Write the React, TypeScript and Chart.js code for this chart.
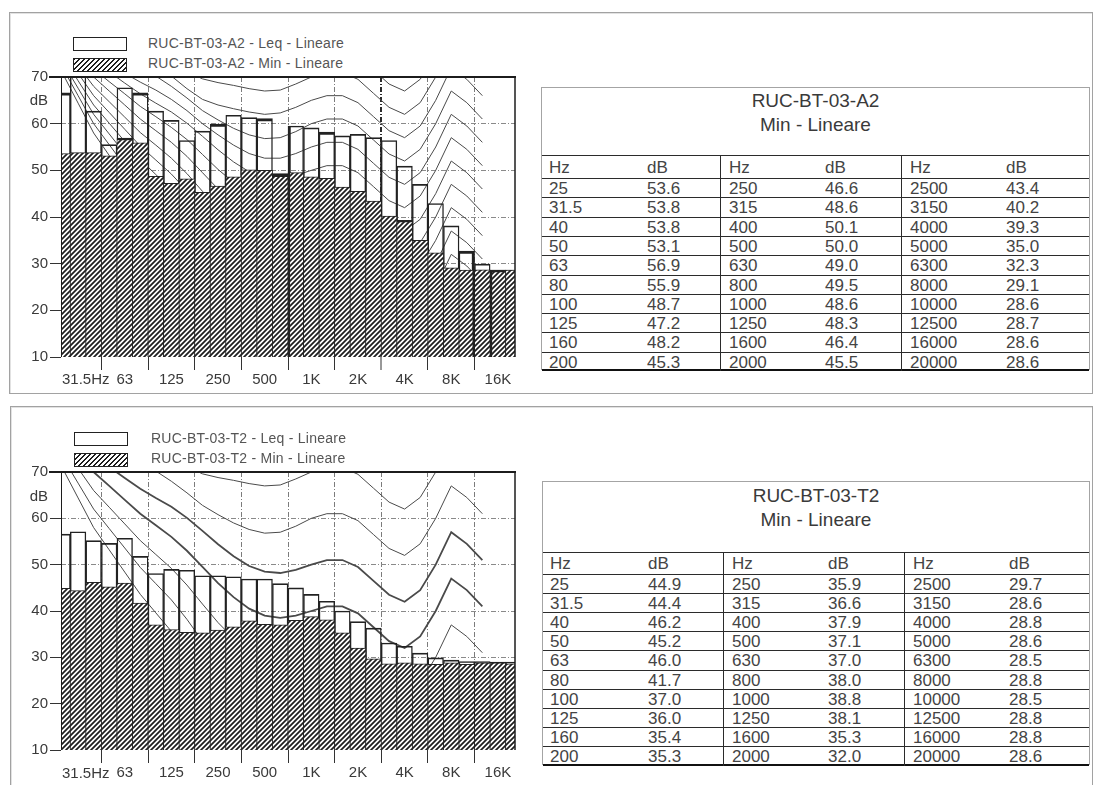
import React, { useEffect, useRef } from 'react';
import { Chart, registerables } from 'chart.js';

Chart.register(...registerables);

const FONT = '"Liberation Sans", Arial, Helvetica, sans-serif';

// Third-octave band centre frequencies (25 Hz .. 20 kHz)
const bandHz = [
  '25', '31.5', '40', '50', '63', '80', '100', '125', '160', '200',
  '250', '315', '400', '500', '630', '800', '1000', '1250', '1600', '2000',
  '2500', '3150', '4000', '5000', '6300', '8000', '10000', '12500', '16000', '20000',
];

// Octave ticks on the frequency axis (band index -> label); the 31.5 Hz label
// is written together with its unit as a separate text
const octaveBandIdx = [1, 4, 7, 10, 13, 16, 19, 22, 25, 28];
const octaveLabels = ['', '63', '125', '250', '500', '1K', '2K', '4K', '8K', '16K'];

// RUC-BT-03-A2, dB per band
const a2Leq = [
  66.6, 72.0, 62.7, 55.5, 67.7, 66.6, 62.7, 60.7, 56.4, 58.4,
  59.9, 61.8, 61.3, 61.1, 49.3, 59.5, 59.1, 58.2, 57.4, 57.7,
  57.0, 56.4, 50.9, 47.0, 42.9, 38.1, 32.7, 29.9, 28.6, 28.6,
];
const a2Min = [
  53.6, 53.8, 53.8, 53.1, 56.9, 55.9, 48.7, 47.2, 48.2, 45.3,
  46.6, 48.6, 50.1, 50.0, 49.0, 49.5, 48.6, 48.3, 46.4, 45.5,
  43.4, 40.2, 39.3, 35.0, 32.3, 29.1, 28.6, 28.7, 28.6, 28.6,
];

// RUC-BT-03-T2, dB per band
const t2Leq = [
  56.6, 57.1, 55.2, 54.6, 55.7, 51.8, 48.1, 49.0, 48.8, 47.6,
  47.6, 47.4, 46.9, 46.9, 45.9, 45.0, 43.6, 42.1, 40.0, 37.7,
  36.3, 33.1, 32.4, 30.9, 29.9, 29.4, 29.1, 29.1, 29.0, 29.0,
];
const t2Min = [
  44.9, 44.4, 46.2, 45.2, 46.0, 41.7, 37.0, 36.0, 35.4, 35.3,
  35.9, 36.6, 37.9, 37.1, 37.0, 38.0, 38.8, 38.1, 35.3, 32.0,
  29.7, 28.6, 28.8, 28.6, 28.5, 28.8, 28.5, 28.8, 28.8, 28.6,
];

// Equal-loudness contours: phon level and dB at the bands 25 Hz .. 12.5 kHz
const contourPhon = [10, 15, 20, 25, 30, 35, 40, 45, 50, 55, 60, 65, 70, 75];
const contourDb = [
  [70.8, 64.4, 58, 53.2, 48.4, 43.6, 39.6, 35.6, 30.8, 25.5, 20.5, 16.3, 12.6, 10.5, 9.4, 9.3, 10, 11, 11, 9.5, 6.5, 3.5, 2, 4.5, 10, 17, 14.5, 11],
  [72, 66, 60, 55.5, 51, 46.5, 42.8, 39, 34.5, 29.5, 24.8, 20.8, 17.3, 15.3, 14.3, 14.3, 15, 16, 16, 14.5, 11.5, 8.5, 7, 9.5, 15, 22, 19.5, 16],
  [73.2, 67.6, 62, 57.8, 53.6, 49.4, 45.9, 42.4, 38.2, 33.5, 29, 25.2, 21.9, 20, 19.1, 19.2, 20, 21, 21, 19.5, 16.5, 13.5, 12, 14.5, 20, 27, 24.5, 21],
  [74.4, 69.2, 64, 60.1, 56.2, 52.3, 49.1, 45.8, 41.9, 37.5, 33.3, 29.7, 26.6, 24.8, 23.9, 24.2, 25, 26, 26, 24.5, 21.5, 18.5, 17, 19.5, 25, 32, 29.5, 26],
  [75.6, 70.8, 66, 62.4, 58.8, 55.2, 52.2, 49.2, 45.6, 41.5, 37.5, 34.1, 31.2, 29.5, 28.8, 29.1, 30, 31, 31, 29.5, 26.5, 23.5, 22, 24.5, 30, 37, 34.5, 31],
  [76.8, 72.4, 68, 64.7, 61.4, 58.1, 55.4, 52.6, 49.3, 45.5, 41.8, 38.6, 35.9, 34.3, 33.7, 34.1, 35, 36, 36, 34.5, 31.5, 28.5, 27, 29.5, 35, 42, 39.5, 36],
  [78, 74, 70, 67, 64, 61, 58.5, 56, 53, 49.5, 46, 43, 40.5, 39, 38.5, 39, 40, 41, 41, 39.5, 36.5, 33.5, 32, 34.5, 40, 47, 44.5, 41],
  [78.8, 75.3, 71.7, 69, 66.4, 63.7, 61.5, 59.2, 56.6, 53.4, 50.2, 47.4, 45.1, 43.7, 43.3, 43.9, 45, 46, 46, 44.5, 41.5, 38.5, 37, 39.5, 45, 52, 49.5, 46],
  [79.6, 76.5, 73.4, 71.1, 68.7, 66.4, 64.4, 62.5, 60.1, 57.3, 54.4, 51.8, 49.7, 48.5, 48.2, 48.9, 50, 51, 51, 49.5, 46.5, 43.5, 42, 44.5, 50, 57, 54.5, 51],
  [80.1, 77.4, 74.8, 72.8, 70.8, 68.9, 67.2, 65.2, 62.8, 60, 57.6, 55.4, 53.6, 52.6, 52.6, 53.6, 55, 56, 56, 54.5, 51.5, 48.5, 47, 49.5, 55, 62, 59.5, 56],
  [80.9, 78.7, 76.5, 74.9, 73.2, 71.6, 70.2, 68, 65.5, 62.8, 60.8, 59, 57.6, 56.8, 57, 58.3, 60, 61, 61, 59.5, 56.5, 53.5, 52, 54.5, 60, 67, 64.5, 61],
  [82.1, 80.3, 78.5, 77.2, 75.8, 74.5, 72.5, 70.2, 67.5, 65.2, 64, 63.2, 62.5, 62, 62.3, 63.5, 65, 66, 66, 64.5, 61.5, 58.5, 57, 59.5, 65, 72, 69.5, 66],
  [83.3, 81.9, 80.5, 79.5, 78.4, 77.4, 75.5, 73.5, 71.2, 69.6, 68.8, 68.2, 67.5, 67, 67.2, 68.5, 70, 71, 71, 69.5, 66.5, 63.5, 62, 64.5, 70, 77, 74.5, 71],
  [85.6, 84.5, 83.4, 82.6, 81.7, 80.9, 79.5, 78, 76.2, 74.5, 73.5, 73, 72.4, 72, 72.2, 73.4, 75, 76, 76, 74.5, 71.5, 68.5, 67, 69.5, 75, 82, 79.5, 76],
];

type Edge = { top?: number; left?: number; right?: number };

function makeHatch(): CanvasPattern | string {
  const c = document.createElement('canvas');
  c.width = 5;
  c.height = 5;
  const g = c.getContext('2d');
  if (!g) return '#999';
  g.fillStyle = '#ffffff';
  g.fillRect(0, 0, 5, 5);
  g.strokeStyle = '#1e1e1e';
  g.lineWidth = 1.75;
  g.beginPath();
  g.moveTo(-1, 6);
  g.lineTo(6, -1);
  g.moveTo(-1, 1);
  g.lineTo(1, -1);
  g.moveTo(4, 6);
  g.lineTo(6, 4);
  g.stroke();
  return g.createPattern(c, 'repeat') || '#999';
}

// Solid frame: thick top edge at 70 dB, right edge, thin left edge
const framePlugin = {
  id: 'plotFrame',
  afterDatasetsDraw(chart: any) {
    const { ctx, chartArea: a } = chart;
    ctx.save();
    ctx.strokeStyle = '#1c1c1c';
    ctx.lineWidth = 1;
    ctx.beginPath();
    ctx.moveTo(a.left + 0.5, a.top);
    ctx.lineTo(a.left + 0.5, a.bottom);
    ctx.stroke();
    ctx.lineWidth = 1.5;
    ctx.beginPath();
    ctx.moveTo(a.right, a.top);
    ctx.lineTo(a.right, a.bottom);
    ctx.stroke();
    ctx.lineWidth = 2;
    ctx.beginPath();
    ctx.moveTo(a.left - 12, a.top);
    ctx.lineTo(a.right + 1, a.top);
    ctx.stroke();
    ctx.restore();
  },
};

interface ChartProps {
  top: number;
  height: number;
  leq: number[];
  min: number[];
  phon: number[];
  boldPhon: number[];
  leqEdges: Record<number, Edge>;
  minEdges: Record<number, Edge>;
  boldGridIdx: number[];
}

function SpectrumChart(p: ChartProps) {
  const ref = useRef<HTMLCanvasElement>(null);

  useEffect(() => {
    const canvas = ref.current;
    if (!canvas) return;
    const hatch = makeHatch();
    const edgeWidth = (edges: Record<number, Edge>) => (ctx: any) => {
      const e = edges[ctx.dataIndex] || {};
      return { top: e.top ?? 1, left: e.left ?? 0.75, right: e.right ?? 0.75, bottom: 0 };
    };
    const curves = p.phon.map((ph) => {
      const row = contourDb[contourPhon.indexOf(ph)];
      return {
        type: 'line' as const,
        label: `${ph} phon`,
        data: row.map((y, i) => ({ x: i, y })),
        borderColor: '#4a4a4a',
        borderWidth: p.boldPhon.includes(ph) ? 1.8 : 1,
        pointRadius: 0,
        tension: 0,
        fill: false,
        order: 3,
      };
    });
    const tickFont = { family: FONT, size: 15 };
    const chart = new Chart(canvas, {
      type: 'bar',
      data: {
        datasets: [
          {
            type: 'bar',
            label: 'Min',
            data: p.min.map((y, i) => ({ x: i, y })),
            backgroundColor: hatch as any,
            borderColor: '#222222',
            borderWidth: edgeWidth(p.minEdges) as any,
            borderSkipped: 'start',
            grouped: false,
            barPercentage: 1,
            categoryPercentage: 1,
            order: 0,
          } as any,
          {
            type: 'bar',
            label: 'Leq',
            data: p.leq.map((y, i) => ({ x: i, y })),
            backgroundColor: 'rgba(255,255,255,0)',
            borderColor: '#222222',
            borderWidth: edgeWidth(p.leqEdges) as any,
            borderSkipped: 'start',
            grouped: false,
            barPercentage: 1,
            categoryPercentage: 1,
            order: 1,
          } as any,
          ...(curves as any[]),
        ],
      },
      options: {
        responsive: false,
        animation: false,
        events: [],
        layout: { padding: { top: 10, right: 10, left: 0, bottom: 0 } },
        plugins: { legend: { display: false }, tooltip: { enabled: false } },
        scales: {
          x: {
            type: 'linear',
            min: -0.1,
            max: 29.1,
            offset: false,
            afterBuildTicks: (axis: any) => {
              axis.ticks = octaveBandIdx.map((v) => ({ value: v }));
            },
            afterFit: (axis: any) => {
              axis.height = 35;
            },
            ticks: {
              autoSkip: false,
              maxRotation: 0,
              padding: 1,
              color: '#3a3a3a',
              font: tickFont,
              callback: (v: any) => {
                const k = octaveBandIdx.indexOf(Number(v));
                return k >= 0 ? octaveLabels[k] : '';
              },
            },
            grid: {
              color: (ctx: any) => (p.boldGridIdx.includes(ctx.tick?.value) ? '#2a2a2a' : '#7c7c7c'),
              lineWidth: (ctx: any) => (p.boldGridIdx.includes(ctx.tick?.value) ? 2 : 1),
              tickLength: 13,
              tickColor: '#333333',
              tickWidth: 1,
            },
            border: { display: false, dash: [5, 2, 1, 2] },
          },
          y: {
            type: 'linear',
            min: 10,
            max: 70,
            afterFit: (axis: any) => {
              axis.width = 61;
            },
            ticks: { stepSize: 10, padding: 2, color: '#3a3a3a', font: tickFont },
            grid: {
              color: (ctx: any) =>
                ctx.tick?.value === 10 || ctx.tick?.value === 70 ? 'rgba(0,0,0,0)' : '#8a8a8a',
              tickLength: 11,
              tickColor: '#333333',
              tickWidth: 1,
            },
            border: { display: false, dash: [5, 2, 1, 2] },
          },
        },
      } as any,
      plugins: [framePlugin],
    });
    return () => chart.destroy();
  }, []);

  return (
    <canvas
      ref={ref}
      width={525}
      height={p.height}
      style={{ position: 'absolute', left: 0, top: p.top, width: 525, height: p.height }}
    />
  );
}

const hatchCss = 'repeating-linear-gradient(135deg, #1e1e1e 0px, #1e1e1e 1.3px, #ffffff 1.3px, #ffffff 3.5px)';

function Legend({ boxLeft, boxTop, textLeft, name }: { boxLeft: number; boxTop: number; textLeft: number; name: string }) {
  const box = (top: number, bg: string) => (
    <div
      style={{
        position: 'absolute',
        left: boxLeft,
        top,
        width: 54,
        height: 14,
        boxSizing: 'border-box',
        border: '1.5px solid #222',
        background: bg,
      }}
    />
  );
  const text = (top: number, s: string) => (
    <div
      style={{
        position: 'absolute',
        left: textLeft,
        top,
        fontFamily: FONT,
        fontSize: 14,
        lineHeight: '16px',
        letterSpacing: 0.25,
        color: '#555',
        whiteSpace: 'nowrap',
      }}
    >
      {s}
    </div>
  );
  return (
    <>
      {box(boxTop, '#fff')}
      {box(boxTop + 20.5, hatchCss)}
      {text(boxTop - 2, `${name} - Leq - Lineare`)}
      {text(boxTop + 18, `${name} - Min - Lineare`)}
    </>
  );
}

interface TableProps {
  left: number;
  top: number;
  width: number;
  height: number;
  titleY: [number, number];
  headTop: number;
  headH: number;
  rowH: number;
  seps: [number, number];
  name: string;
  values: number[];
}

function BandTable(t: TableProps) {
  const groupX = [0, t.seps[0], t.seps[1]];
  const textStyle = (left: number, top: number, h: number): React.CSSProperties => ({
    position: 'absolute',
    left,
    top,
    height: h,
    lineHeight: `${h}px`,
    fontFamily: FONT,
    fontSize: 17,
    color: '#444',
    whiteSpace: 'nowrap',
  });
  const hLine = (top: number, h = 1, color = '#2b2b2b') => (
    <div key={`h${top}`} style={{ position: 'absolute', left: 0, right: 0, top, height: h, background: color }} />
  );
  const items: React.ReactNode[] = [];
  items.push(hLine(t.headTop));
  for (let r = 0; r < 10; r++) items.push(hLine(t.headTop + t.headH + r * t.rowH));
  items.push(hLine(t.height - 2, 2, '#111'));
  t.seps.forEach((x) =>
    items.push(
      <div
        key={`v${x}`}
        style={{ position: 'absolute', left: x, top: t.headTop, width: 1, height: t.height - t.headTop, background: '#2b2b2b' }}
      />,
    ),
  );
  groupX.forEach((gx, g) => {
    const hzX = gx + (g === 0 ? 7 : 9);
    const dbX = gx + 105;
    items.push(
      <div key={`hh${g}`} style={textStyle(hzX, t.headTop + 1, t.headH)}>Hz</div>,
      <div key={`hd${g}`} style={textStyle(dbX, t.headTop + 1, t.headH)}>dB</div>,
    );
    for (let r = 0; r < 10; r++) {
      const k = g * 10 + r;
      const y = t.headTop + t.headH + r * t.rowH + 1;
      items.push(
        <div key={`f${k}`} style={textStyle(hzX, y, t.rowH)}>{bandHz[k]}</div>,
        <div key={`v${k}`} style={textStyle(dbX, y, t.rowH)}>{t.values[k].toFixed(1)}</div>,
      );
    }
  });
  const titleStyle = (cy: number): React.CSSProperties => ({
    position: 'absolute',
    left: 0,
    right: 0,
    top: cy - 11,
    height: 22,
    lineHeight: '22px',
    textAlign: 'center',
    fontFamily: FONT,
    fontSize: 19,
    color: '#3a3a3a',
  });
  return (
    <div
      style={{
        position: 'absolute',
        left: t.left,
        top: t.top,
        width: t.width,
        height: t.height,
        boxSizing: 'border-box',
        border: '1px solid #a4a4a4',
        borderBottom: 'none',
        background: '#fff',
      }}
    >
      <div style={titleStyle(t.titleY[0])}>{t.name}</div>
      <div style={titleStyle(t.titleY[1])}>Min - Lineare</div>
      {items}
    </div>
  );
}

const axisText = (top: number, left: number, s: string, width?: number): React.ReactElement => (
  <div
    style={{
      position: 'absolute',
      left,
      top,
      width,
      textAlign: width ? 'right' : 'left',
      fontFamily: FONT,
      fontSize: 15,
      lineHeight: '16px',
      color: '#3a3a3a',
      whiteSpace: 'nowrap',
    }}
  >
    {s}
  </div>
);

export default function App() {
  const panel = (left: number, top: number, width: number, height: number) => (
    <div
      style={{
        position: 'absolute',
        left,
        top,
        width,
        height,
        boxSizing: 'border-box',
        border: '1px solid #a2a2a2',
        boxShadow: 'inset 1px 1px 0 #e2e2e2',
        background: '#fff',
      }}
    />
  );

  const bold = 2.4;
  const a2LeqEdges: Record<number, Edge> = {
    0: { top: bold }, 5: { top: bold }, 10: { top: bold }, 13: { top: bold }, 14: { top: bold },
    15: { left: bold }, 17: { top: bold }, 26: { top: bold, right: bold }, 28: { top: bold, left: bold },
  };
  const a2MinEdges: Record<number, Edge> = {
    4: { top: bold }, 14: { top: bold }, 15: { left: bold }, 22: { top: bold },
    26: { right: bold }, 28: { top: bold, left: bold },
  };

  return (
    <div
      style={{
        position: 'absolute',
        left: 0,
        top: 0,
        width: 1096,
        height: 785,
        overflow: 'hidden',
        background: '#fff',
      }}
    >
      {panel(9, 12, 1084, 382)}
      {panel(10, 406, 1083, 420)}

      <Legend boxLeft={73} boxTop={37} textLeft={148} name="RUC-BT-03-A2" />
      <SpectrumChart
        top={66}
        height={326}
        leq={a2Leq}
        min={a2Min}
        phon={[10, 15, 20, 25, 30, 35, 40, 45, 50, 55, 60, 65, 70, 75]}
        boldPhon={[]}
        leqEdges={a2LeqEdges}
        minEdges={a2MinEdges}
        boldGridIdx={[22]}
      />
      {axisText(92, 0, 'dB', 48)}
      {axisText(371, 62, '31.5Hz')}
      <BandTable
        left={541}
        top={87}
        width={549}
        height={283}
        titleY={[12.5, 37]}
        headTop={67}
        headH={23}
        rowH={19.3}
        seps={[178, 359]}
        name="RUC-BT-03-A2"
        values={a2Min}
      />

      <Legend boxLeft={74} boxTop={432} textLeft={151} name="RUC-BT-03-T2" />
      <SpectrumChart
        top={461}
        height={324}
        leq={t2Leq}
        min={t2Min}
        phon={[10, 20, 30, 40, 50, 60, 70]}
        boldPhon={[40, 50]}
        leqEdges={{}}
        minEdges={{}}
        boldGridIdx={[]}
      />
      {axisText(488, 0, 'dB', 48)}
      {axisText(765, 62, '31.5Hz')}
      <BandTable
        left={542}
        top={481}
        width={548}
        height={284}
        titleY={[13.5, 38]}
        headTop={70}
        headH={21.6}
        rowH={19.2}
        seps={[180, 361]}
        name="RUC-BT-03-T2"
        values={t2Min}
      />
    </div>
  );
}
